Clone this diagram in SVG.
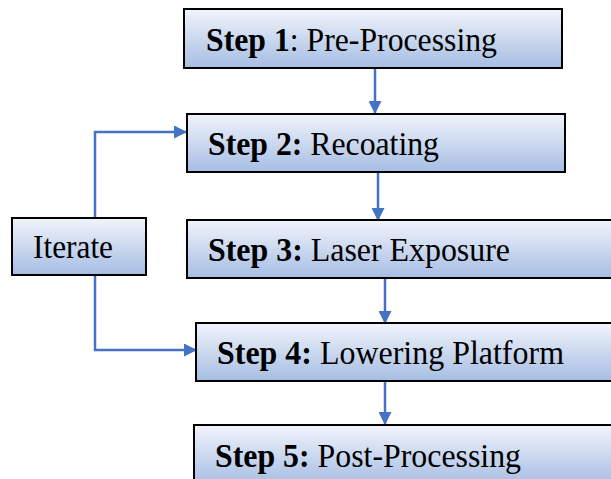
<svg xmlns="http://www.w3.org/2000/svg" width="611" height="479" viewBox="0 0 611 479">
<defs>
<linearGradient id="g" x1="0" y1="0" x2="0" y2="1">
<stop offset="0" stop-color="#f1f4fb"/>
<stop offset="1" stop-color="#a6bde3"/>
</linearGradient>
<marker id="ah" markerWidth="13" markerHeight="13" refX="12" refY="6.5" orient="auto" markerUnits="userSpaceOnUse">
<path d="M0,0 L13,6.5 L0,13 Z" fill="#4472c4"/>
</marker>
<style>
.box{fill:url(#g);stroke:#000;stroke-width:2}
.c{fill:none;stroke:#4472c4;stroke-width:2.5;marker-end:url(#ah)}
</style>
</defs>
<rect width="611" height="479" fill="#fff"/>
<g id="connectors">
<path class="c" d="M375,68 V113"/>
<path class="c" d="M378,172 V220"/>
<path class="c" d="M385,278 V323"/>
<path class="c" d="M385,374 V424"/>
<path class="c" d="M95,217 V132 H186"/>
<path class="c" d="M95,276 V350 H196"/>
</g>
<g font-family="'Liberation Serif', serif" font-size="33" fill="#000">
<g id="step1"><rect class="box" x="184" y="9" width="378" height="59"/><text x="206" y="51" textLength="291" lengthAdjust="spacingAndGlyphs"><tspan font-weight="bold">Step 1</tspan>: Pre-Processing</text></g>
<g id="step2"><rect class="box" x="187" y="114" width="378" height="58"/><text x="208" y="155" textLength="231" lengthAdjust="spacingAndGlyphs"><tspan font-weight="bold">Step 2:</tspan> Recoating</text></g>
<g id="step3"><rect class="box" x="187" y="220" width="430" height="58"/><text x="208" y="261" textLength="302" lengthAdjust="spacingAndGlyphs"><tspan font-weight="bold">Step 3:</tspan> Laser Exposure</text></g>
<g id="step4"><rect class="box" x="196" y="323" width="421" height="58"/><text x="217" y="364" textLength="347" lengthAdjust="spacingAndGlyphs"><tspan font-weight="bold">Step 4:</tspan> Lowering Platform</text></g>
<g id="step5"><rect class="box" x="194" y="425" width="423" height="60"/><text x="215" y="467" textLength="306" lengthAdjust="spacingAndGlyphs"><tspan font-weight="bold">Step 5:</tspan> Post-Processing</text></g>
<g id="iterate"><rect class="box" x="12" y="218" width="134" height="57"/><text x="33" y="258" textLength="80" lengthAdjust="spacingAndGlyphs">Iterate</text></g>
</g>
</svg>
